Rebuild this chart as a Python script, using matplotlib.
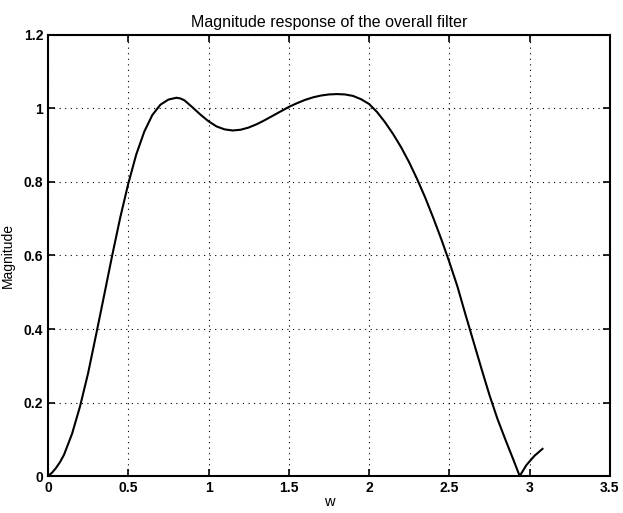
import matplotlib
matplotlib.use("Agg")
import matplotlib.pyplot as plt

w = [0.0, 0.025, 0.05, 0.075, 0.1, 0.15, 0.2, 0.25, 0.3, 0.35, 0.4, 0.45, 0.5, 0.55,
     0.6, 0.65, 0.7, 0.75, 0.8, 0.825, 0.85, 0.9, 0.95, 1.0, 1.05, 1.1, 1.15, 1.2,
     1.25, 1.3, 1.35, 1.4, 1.45, 1.5, 1.55, 1.6, 1.65, 1.7, 1.75, 1.8, 1.85, 1.9,
     1.95, 2.0, 2.05, 2.1, 2.15, 2.2, 2.25, 2.3, 2.35, 2.4, 2.45, 2.5, 2.55, 2.6,
     2.65, 2.7, 2.75, 2.8, 2.85, 2.9, 2.938, 2.98, 3.03, 3.08]
mag = [0.0, 0.009, 0.022, 0.038, 0.058, 0.115, 0.19, 0.28, 0.385, 0.492, 0.6, 0.703,
       0.795, 0.875, 0.937, 0.982, 1.01, 1.024, 1.029, 1.027, 1.022, 1.003, 0.983,
       0.965, 0.951, 0.943, 0.94, 0.942, 0.948, 0.957, 0.968, 0.98, 0.992, 1.004,
       1.014, 1.023, 1.03, 1.035, 1.038, 1.039, 1.038, 1.034, 1.025, 1.012, 0.99,
       0.962, 0.93, 0.894, 0.853, 0.807, 0.757, 0.702, 0.644, 0.582, 0.516, 0.44,
       0.366, 0.292, 0.22, 0.155, 0.098, 0.043, 0.0, 0.03, 0.055, 0.074]

xticks = [0, 0.5, 1, 1.5, 2, 2.5, 3, 3.5]
xticklabels = ["0", "0.5", "1", "1.5", "2", "2.5", "3", "3.5"]
yticks = [0, 0.2, 0.4, 0.6, 0.8, 1, 1.2]
yticklabels = ["0", "0.2", "0.4", "0.6", "0.8", "1", "1.2"]

plt.rcParams['font.family'] = ['Liberation Sans', 'DejaVu Sans']

fig = plt.figure(figsize=(6.23, 5.13), dpi=100)
ax = fig.add_axes([0.077, 0.072, 0.902, 0.86])
ax.plot(w, mag, color='black', linewidth=1.5, solid_joinstyle='round')
ax.set_xlim(0, 3.5)
ax.set_ylim(0, 1.2)
ax.set_xticks(xticks)
ax.set_xticklabels(xticklabels)
ax.set_yticks(yticks)
ax.set_yticklabels(yticklabels)
ax.tick_params(direction='in', top=True, right=True, labelsize=10, width=1.2, length=5)
for lab in ax.get_xticklabels() + ax.get_yticklabels():
    lab.set_fontweight('bold')
ax.grid(True, linestyle=(0, (1, 4)), color='black', linewidth=0.8)
for s in ax.spines.values():
    s.set_linewidth(1.5)
ax.set_title("Magnitude response of the overall filter", fontsize=11.5, pad=6)
ax.set_xlabel("w", fontsize=10.5, labelpad=0)
ax.set_ylabel("Magnitude", fontsize=10, labelpad=6)
fig.savefig("out.png", dpi=100)
